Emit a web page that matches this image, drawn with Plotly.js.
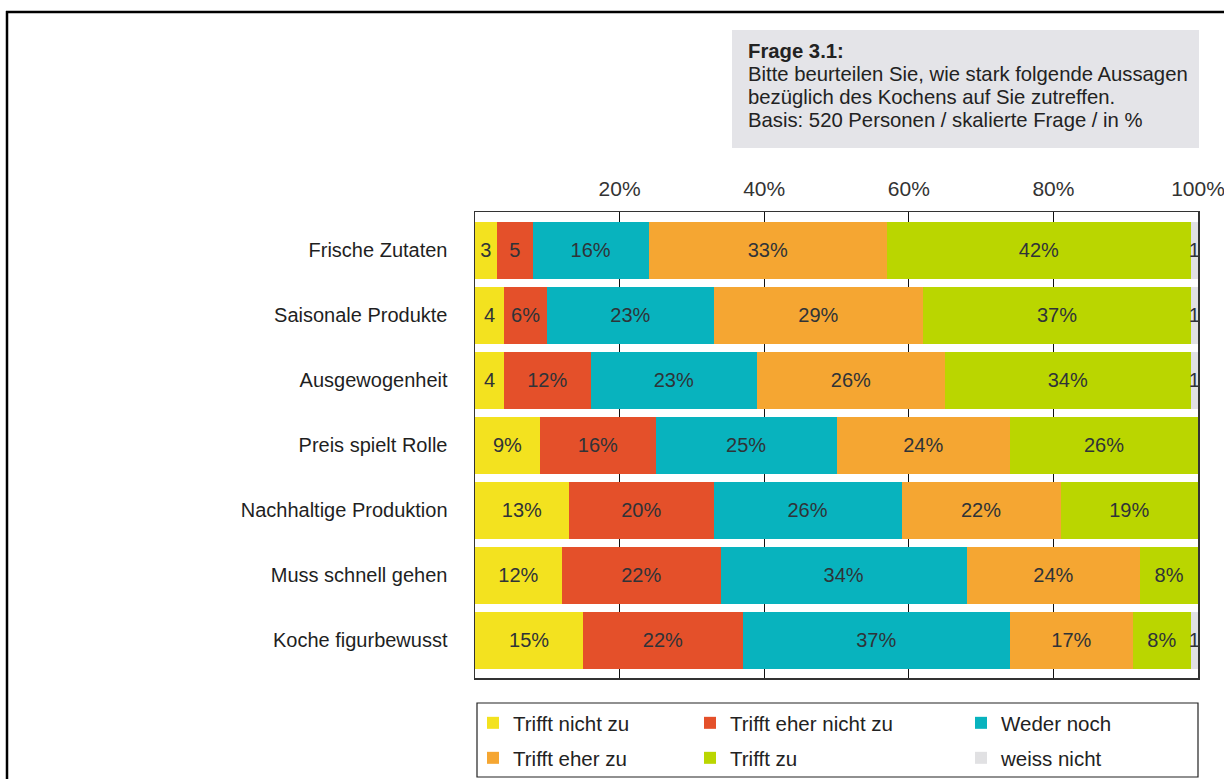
<!DOCTYPE html>
<html>
<head>
<meta charset="utf-8">
<script src="https://cdn.plot.ly/plotly-3.0.1.min.js"></script>
<style>html,body{margin:0;padding:0;background:#fff;overflow:hidden;}#chart{width:1224px;height:779px;}</style>
</head>
<body>
<div id="chart"></div>
<script>
// ---- data ----
var categories = ["Frische Zutaten", "Saisonale Produkte", "Ausgewogenheit", "Preis spielt Rolle",
                  "Nachhaltige Produktion", "Muss schnell gehen", "Koche figurbewusst"];
var seriesNames = ["Trifft nicht zu", "Trifft eher nicht zu", "Weder noch", "Trifft eher zu", "Trifft zu", "weiss nicht"];
var triffNicht      = [3, 4, 4, 9, 13, 12, 15];
var triffEherNicht  = [5, 6, 12, 16, 20, 22, 22];
var wederNoch       = [16, 23, 23, 25, 26, 34, 37];
var triffEher       = [33, 29, 26, 24, 22, 24, 17];
var triffZu         = [42, 37, 34, 26, 19, 8, 8];
var weissNicht      = [1, 1, 1, 0, 0, 0, 1];
var labelsNicht     = ["3", "4", "4", "9%", "13%", "12%", "15%"];
var labelsEherNicht = ["5", "6%", "12%", "16%", "20%", "22%", "22%"];
var labelsWeder     = ["16%", "23%", "23%", "25%", "26%", "34%", "37%"];
var labelsEher      = ["33%", "29%", "26%", "24%", "22%", "24%", "17%"];
var labelsZu        = ["42%", "37%", "34%", "26%", "19%", "8%", "8%"];
var labelsWeiss     = ["1", "1", "1", "", "", "", "1"];
var tickValues = [20, 40, 60, 80, 100];
var tickLabels = ["20%", "40%", "60%", "80%", "100%"];
var titleLines = ["<b>Frage 3.1:</b>",
                  "Bitte beurteilen Sie, wie stark folgende Aussagen",
                  "bezüglich des Kochens auf Sie zutreffen.",
                  "Basis: 520 Personen / skalierte Frage / in %"];

// ---- styling ----
var colors = ["#F3E21F", "#E4502A", "#08B3BE", "#F5A632", "#BAD600", "#E1E1E3"];
var W = 1224, H = 779;
var M = {l: 475, r: 26, t: 212, b: 101};
var PW = W - M.l - M.r, PH = H - M.t - M.b;
function px(x) { return (x - M.l) / PW; }
function py(y) { return (H - M.b - y) / PH; }
var FONT = "Liberation Sans, Arial, Helvetica, sans-serif";

var values = [triffNicht, triffEherNicht, wederNoch, triffEher, triffZu, weissNicht];
var labels = [labelsNicht, labelsEherNicht, labelsWeder, labelsEher, labelsZu, labelsWeiss];
var legendIds = ["legend", "legend2", "legend3", "legend4", "legend5", "legend6"];

var traces = values.map(function (v, i) {
  return {
    type: "bar",
    orientation: "h",
    name: seriesNames[i],
    x: v,
    y: categories,
    text: labels[i],
    textposition: "inside",
    insidetextanchor: "middle",
    textangle: 0,
    constraintext: "none",
    textfont: {family: FONT, size: 20, color: "#2f3338"},
    marker: {color: colors[i], line: {width: 0}},
    legend: legendIds[i],
    showlegend: true,
    hoverinfo: "name+x"
  };
});

// legend positions (text start x, row center y)
var legendPos = [[513, 723], [730, 723], [1001, 723], [513, 758], [730, 758], [1001, 758]];
var layout = {
  width: W, height: H,
  showlegend: true,
  margin: {l: M.l, r: M.r, t: M.t, b: M.b, autoexpand: false},
  paper_bgcolor: "#ffffff",
  plot_bgcolor: "#ffffff",
  barmode: "stack",
  bargap: 0.123,
  font: {family: FONT, color: "#222"},
  xaxis: {
    side: "top",
    range: [0, 100],
    tickvals: tickValues,
    ticktext: tickLabels,
    ticks: "",
    ticklabelstandoff: 6,
    ticklabeloverflow: "allow",
    tickfont: {family: FONT, size: 21, color: "#333"},
    showgrid: true,
    gridcolor: "#111",
    gridwidth: 1,
    zeroline: false,
    showline: true,
    linecolor: "#333",
    linewidth: 1.5,
    mirror: true,
    fixedrange: true
  },
  yaxis: {
    type: "category",
    range: [6.58, -0.59],
    ticks: "",
    ticklabelstandoff: 22,
    tickfont: {family: FONT, size: 20, color: "#1f1f1f"},
    showgrid: false,
    zeroline: false,
    showline: true,
    linecolor: "#333",
    linewidth: 1.5,
    mirror: true,
    fixedrange: true
  },
  shapes: [
    // outer frame (top and left edges visible)
    {type: "line", xref: "paper", yref: "paper", x0: px(6), x1: px(1224), y0: py(12), y1: py(12),
     line: {color: "#000", width: 2.5}, layer: "above"},
    {type: "line", xref: "paper", yref: "paper", x0: px(7), x1: px(7), y0: py(11), y1: py(779),
     line: {color: "#000", width: 2.5}, layer: "above"},
    // question box
    {type: "rect", xref: "paper", yref: "paper", x0: px(732), x1: px(1199), y0: py(30), y1: py(148),
     line: {width: 0}, fillcolor: "#E4E4E8", layer: "below"},
    // legend frame
    {type: "rect", xref: "paper", yref: "paper", x0: px(477), x1: px(1198), y0: py(703), y1: py(777),
     line: {color: "#222", width: 1.2}, fillcolor: "rgba(0,0,0,0)", layer: "above"}
  ],
  annotations: titleLines.map(function (t, i) {
    return {
      text: t, xref: "paper", yref: "paper",
      x: px(746), y: py([51, 74, 97, 120][i]),
      xanchor: "left", yanchor: "middle", showarrow: false,
      font: {family: FONT, size: 20.3, color: "#222"}
    };
  })
};

legendIds.forEach(function (id, i) {
  layout[id] = {
    x: px(legendPos[i][0] - 40), y: py(legendPos[i][1]),
    xanchor: "left", yanchor: "middle",
    orientation: "v",
    visible: true,
    bgcolor: "rgba(0,0,0,0)",
    borderwidth: 0,
    font: {family: FONT, size: 20.5, color: "#222"}
  };
});

Plotly.newPlot("chart", traces, layout, {displayModeBar: false, staticPlot: true});
</script>
</body>
</html>
